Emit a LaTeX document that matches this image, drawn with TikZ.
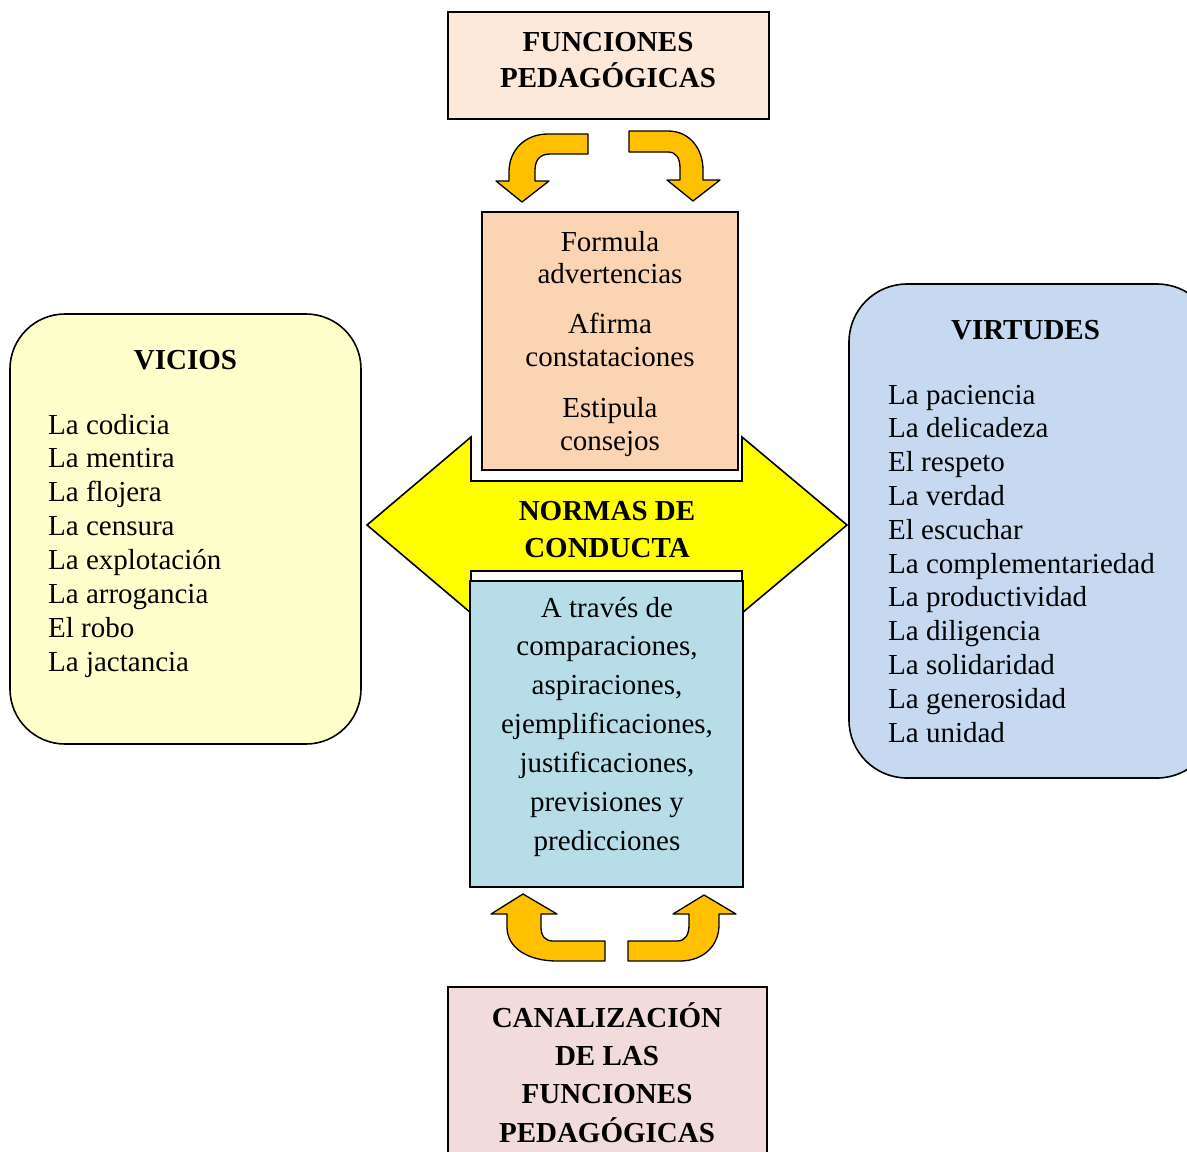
\documentclass[tikz,border=0pt]{standalone}
\usepackage{fontspec}
\setmainfont{Liberation Serif}
\definecolor{topfill}{HTML}{FDE9D9}
\definecolor{peachfill}{HTML}{FBD4B4}
\definecolor{bluefill}{HTML}{B7DDE8}
\definecolor{pinkfill}{HTML}{F2DBDB}
\definecolor{vicfill}{HTML}{FFFFCC}
\definecolor{virfill}{HTML}{C6D9F1}
\definecolor{normyellow}{HTML}{FFFF00}
\definecolor{arrowgold}{HTML}{FFC000}
\begin{document}
\begin{tikzpicture}[x=1pt,y=-1pt,
  txt/.style={inner sep=0pt, font=\fontsize{29}{34}\selectfont},
  btxt/.style={inner sep=0pt, font=\fontsize{29}{34}\selectfont\bfseries},
  box/.style={draw=black, line width=1.6pt, inner sep=0pt},
  turn/.style={draw=black, line width=1.3pt, fill=arrowgold, line join=round},
]
\useasboundingbox (0,0) rectangle (1187,1152);
\fill[white] (0,0) rectangle (1187,1152);
\clip (0,0) rectangle (1187,1152);

% central double arrow
\draw[line width=1.6pt, fill=normyellow, line join=miter]
  (367,525) -- (471,437) -- (471,481) -- (742,481) -- (742,437) -- (847,525)
  -- (742,613) -- (742,571) -- (471,571) -- (471,613) -- cycle;
\node[btxt, anchor=base] (norm1) at (607,520) {NORMAS DE};
\node[btxt, anchor=base] (norm2) at (607,557) {CONDUCTA};

% boxes
\node[box, fill=topfill, minimum width=321pt, minimum height=107pt] (fun) at (608.5,65.5) {};
\node[box, fill=peachfill, minimum width=256pt, minimum height=258pt] (form) at (610,341) {};
\node[box, fill=bluefill, minimum width=273pt, minimum height=306pt] (trav) at (606.5,734) {};
\node[box, fill=pinkfill, minimum width=319pt, minimum height=230pt] (canal) at (607.5,1102) {};
\node[box, fill=vicfill, rounded corners=55pt, minimum width=351pt, minimum height=430pt] (vicios) at (185.5,529) {};
\node[box, fill=virfill, rounded corners=58pt, minimum width=366pt, minimum height=494pt] (virtudes) at (1032,531) {};

% turning arrows
\draw[turn] (588,134) -- (548,134) .. controls (525,134) and (509,150) .. (509,172)
  -- (509,181) -- (496,181) -- (522,202) -- (549,181) -- (535,181) -- (535,170)
  .. controls (535,160) and (540,154) .. (550,154) -- (588,154) -- cycle;
\draw[turn] (629,131) -- (668,131) .. controls (689,131) and (703,148) .. (703,170)
  -- (703,180) -- (720,180) -- (693,201) -- (667,180) -- (680,180) -- (680,168)
  .. controls (680,158) and (676,152) .. (668,152) -- (629,152) -- cycle;
\draw[turn] (605,961) -- (557,961) .. controls (528,961) and (507,948) .. (507,927)
  -- (507,914) -- (491,914) -- (523,894) -- (557,914) -- (541,914) -- (541,927)
  .. controls (541,936) and (545,941) .. (553,941) -- (605,941) -- cycle;
\draw[turn] (628,961) -- (680,961) .. controls (704,961) and (719,945) .. (719,925)
  -- (719,914) -- (736,914) -- (704,895) -- (673,914) -- (689,914) -- (689,925)
  .. controls (689,935) and (685,941) .. (677,941) -- (628,941) -- cycle;

% texts
\node[btxt, anchor=base] (fun1) at (608,51) {FUNCIONES};
\node[btxt, anchor=base] (fun2) at (608,87) {PEDAGÓGICAS};

\node[txt, anchor=base] (f1) at (610,251) {Formula};
\node[txt, anchor=base] (f2) at (610,283) {advertencias};
\node[txt, anchor=base] (f3) at (610,333) {Afirma};
\node[txt, anchor=base] (f4) at (610,366) {constataciones};
\node[txt, anchor=base] (f5) at (610,417) {Estipula};
\node[txt, anchor=base] (f6) at (610,450) {consejos};

\foreach \t [count=\i] in {A través de, {comparaciones,}, {aspiraciones,},
    {ejemplificaciones,}, {justificaciones,}, previsiones y, predicciones}
  \node[txt, anchor=base] (t\i) at (607,{617+38.85*(\i-1)}) {\t};

\node[btxt, anchor=base] (c1) at (607,1027) {CANALIZACIÓN};
\node[btxt, anchor=base] (c2) at (607,1065) {DE LAS};
\node[btxt, anchor=base] (c3) at (607,1103) {FUNCIONES};
\node[btxt, anchor=base] (c4) at (607,1142) {PEDAGÓGICAS};

\node[btxt, anchor=base] (vict) at (185.5,369) {VICIOS};
\foreach \t [count=\i] in {La codicia, La mentira, La flojera, La censura,
    La explotación, La arrogancia, El robo, La jactancia}
  \node[txt, anchor=base west] (vi\i) at (48,{434+33.9*(\i-1)}) {\t};

\node[btxt, anchor=base] (virt) at (1025.5,339) {VIRTUDES};
\foreach \t [count=\i] in {La paciencia, La delicadeza, El respeto, La verdad,
    El escuchar, La complementariedad, La productividad, La diligencia,
    La solidaridad, La generosidad, La unidad}
  \node[txt, anchor=base west] (vr\i) at (888,{404+33.8*(\i-1)}) {\t};
\end{tikzpicture}
\end{document}
